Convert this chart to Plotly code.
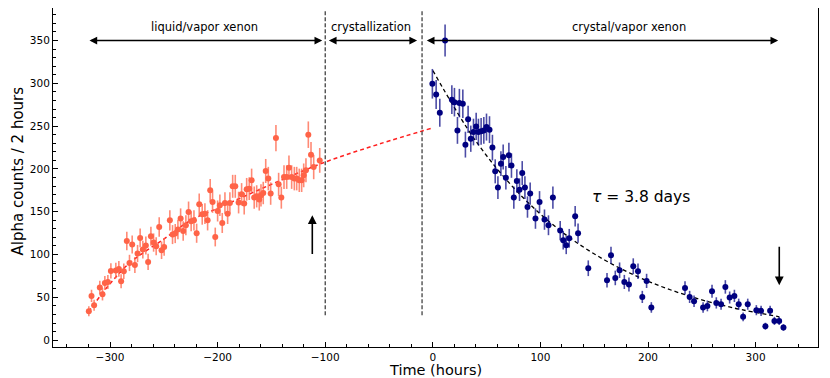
import numpy as np
import plotly.graph_objects as go

# ---------------- data ----------------
liquid_t = [-319.7, -317.2, -314.8, -309.5, -307.0, -304.8, -302.0, -299.2, -294.6, -291.8,
            -289.7, -287.2, -284.4, -281.9, -279.4, -276.9, -274.4, -272.0, -269.5, -266.7,
            -264.6, -262.0, -259.5, -257.1, -254.3, -252.1, -249.7, -244.4, -241.9, -239.4,
            -236.9, -234.4, -232.0, -229.5, -227.0, -224.6, -222.0, -219.5, -217.1, -214.3,
            -211.8, -209.3, -206.9, -204.7, -202.2, -200.0, -197.9, -195.7, -193.2, -190.7,
            -188.6, -186.0, -183.6, -180.5, -177.7, -175.3, -173.0, -170.6, -168.4, -166.0,
            -163.7, -161.3, -159.7, -157.6, -155.3, -152.9, -150.7, -145.8, -143.3, -140.8,
            -138.3, -135.8, -133.7, -131.2, -128.7, -126.5, -124.1, -121.9, -120.0, -117.9,
            -115.7, -113.2, -110.7, -105.1]
liquid_counts = [33.8, 51.7, 40.8, 61.5, 53.7, 66.9, 68.0, 80.9, 81.3, 83.2,
                 68.8, 80.5, 115.9, 90.2, 111.7, 87.9, 101.2, 119.4, 105.8, 110.5,
                 91.4, 121.4, 114.0, 109.7, 132.2, 105.0, 108.9, 140.0, 123.3, 124.5,
                 129.2, 142.0, 127.5, 134.2, 149.7, 138.9, 140.0, 124.9, 158.7, 147.0,
                 147.8, 140.0, 175.0, 161.4, 120.5, 150.9, 157.5, 136.9, 160.2, 147.8,
                 160.2, 179.7, 179.7, 160.7, 170.4, 159.5, 176.2, 177.0, 186.7, 166.5,
                 168.0, 164.2, 169.2, 171.9, 197.6, 188.7, 171.2, 236.1, 182.0, 166.5,
                 190.5, 190.5, 201.5, 190.5, 188.7, 188.7, 186.7, 186.7, 192.5, 198.4,
                 240.0, 216.7, 202.2, 210.0]

crystal_t = [-0.4, 3.1, 6.5, 11.4, 17.7, 20.1, 22.9, 24.7, 27.9, 30.3,
             32.8, 35.3, 37.8, 40.3, 42.4, 44.9, 47.4, 49.9, 52.7, 55.4,
             58.0, 60.5, 63.3, 65.4, 67.9, 70.7, 73.1, 75.3, 78.1, 80.6,
             83.1, 85.6, 88.0, 90.5, 95.4, 99.2, 103.8, 107.5, 111.6, 118.4,
             121.2, 124.0, 126.8, 132.3, 135.0, 144.5, 161.9, 165.6, 169.6, 173.6,
             178.0, 182.3, 186.3, 190.7, 194.7, 198.7, 203.1, 234.4, 238.7, 242.8,
             251.2, 255.2, 259.5, 263.5, 267.9, 271.9, 275.9, 280.3, 284.3, 288.4,
             292.7, 300.7, 305.1, 309.1, 313.5, 317.5, 321.9, 325.9]
crystal_counts = [299.5, 287.0, 265.7, 350.0, 280.9, 278.0, 245.0, 276.9, 276.2, 228.4,
                  257.9, 235.3, 243.1, 249.7, 243.1, 243.9, 245.0, 248.9, 245.9, 224.9,
                  197.2, 178.2, 206.2, 213.9, 189.8, 215.9, 203.9, 166.5, 185.9, 175.8,
                  195.2, 178.2, 155.5, 171.2, 142.0, 161.4, 140.8, 134.2, 166.5, 128.0,
                  116.7, 111.0, 119.0, 144.7, 125.0, 84.0, 70.0, 99.2, 72.7, 81.7,
                  68.0, 65.0, 86.3, 80.5, 50.5, 69.2, 38.2, 61.0, 50.5, 45.5,
                  38.2, 40.0, 57.2, 43.5, 42.0, 62.2, 49.8, 51.7, 42.0, 27.2,
                  42.0, 35.0, 34.2, 16.3, 34.2, 22.5, 22.5, 14.8]

# fit curves
growth_fit_t = [-320, -300, -280, -250, -225, -200, -150, -100, -50, 0]
growth_fit_counts = [33, 66, 92, 118, 140, 154, 182, 208, 229, 248]
decay_fit_t = [0, 40, 80, 120, 160, 200, 240, 280, 322]
decay_fit_counts = [315, 232.5, 171.5, 126.5, 93.4, 68.9, 50.8, 37.5, 27.3]

phase_bounds = [-100, -10]
phase_labels = ["liquid/vapor xenon", "crystallization", "crystal/vapor xenon"]
phase_label_x = [-212.6, -57, 182.5]
phase_arrows = [(-320.5, -102.8), (-98, -14.6), (-7, 321)]

x_ticks = [-300, -200, -100, 0, 100, 200, 300]
y_ticks = [0, 50, 100, 150, 200, 250, 300, 350]

FONT = "DejaVu Sans, Verdana, sans-serif"
liq_err = np.sqrt(liquid_counts)
cry_err = np.sqrt(crystal_counts)

fig = go.Figure()

fig.add_trace(go.Scatter(
    x=growth_fit_t, y=growth_fit_counts, mode="lines", line_shape="spline",
    line=dict(color="#ff2020", width=1.5, dash="4px,3px"), hoverinfo="skip"))
fig.add_trace(go.Scatter(
    x=decay_fit_t, y=decay_fit_counts, mode="lines", line_shape="spline",
    line=dict(color="black", width=1.3, dash="4px,3px"), hoverinfo="skip"))

fig.add_trace(go.Scatter(
    x=liquid_t, y=liquid_counts, mode="markers",
    marker=dict(color="#ff6347", size=6),
    error_y=dict(type="data", array=liq_err, color="rgba(255,99,71,0.75)", thickness=1.6, width=0)))
fig.add_trace(go.Scatter(
    x=crystal_t, y=crystal_counts, mode="markers",
    marker=dict(color="#000080", size=6),
    error_y=dict(type="data", array=cry_err, color="rgba(0,0,128,0.7)", thickness=1.6, width=0)))

# vertical phase boundaries
for xb in phase_bounds:
    fig.add_trace(go.Scatter(x=[xb, xb], y=[29, 385], mode="lines",
                             line=dict(color="#333333", width=1.2, dash="4px,2px"), hoverinfo="skip"))

annotations = []
for (x0, x1) in phase_arrows:
    annotations.append(dict(x=x1, y=350, ax=x0, ay=350, xref="x", yref="y", axref="x", ayref="y",
                            text="", showarrow=True, arrowhead=2, startarrowhead=2,
                            arrowside="end+start", arrowsize=1.1, startarrowsize=1.1,
                            arrowwidth=1.4, arrowcolor="black"))
for lab, lx in zip(phase_labels, phase_label_x):
    annotations.append(dict(x=lx, y=366, xref="x", yref="y", text=lab, showarrow=False,
                            font=dict(family=FONT, size=11.5, color="black")))
# marker arrows
annotations.append(dict(x=-112, y=146, ax=-112, ay=99, xref="x", yref="y", axref="x", ayref="y",
                        text="", showarrow=True, arrowhead=2, arrowsize=1.1, arrowwidth=1.6,
                        arrowcolor="black"))
annotations.append(dict(x=322, y=64, ax=322, ay=111, xref="x", yref="y", axref="x", ayref="y",
                        text="", showarrow=True, arrowhead=2, arrowsize=1.1, arrowwidth=1.6,
                        arrowcolor="black"))
annotations.append(dict(x=146, y=167, xref="x", yref="y", text="<i>τ</i> = 3.8 days", showarrow=False,
                        xanchor="left", font=dict(family=FONT, size=15.5, color="black")))
# axis titles
annotations.append(dict(x=0.5, y=-0.097, xref="paper", yref="paper", yanchor="bottom",
                        text="Time (hours)", showarrow=False,
                        font=dict(family=FONT, size=14.5, color="black")))
annotations.append(dict(x=-0.046, y=0.52, xref="paper", yref="paper", xanchor="center",
                        text="Alpha counts / 2 hours", showarrow=False, textangle=-90,
                        font=dict(family=FONT, size=15, color="black")))

# the page body adds an 8px offset, so the figure is 8px smaller and shifted margins
fig.update_layout(
    width=822, height=370,
    margin=dict(l=45, r=12, t=0, b=31, autoexpand=False),
    paper_bgcolor="white", plot_bgcolor="white",
    showlegend=False,
    font=dict(family=FONT, size=10.5, color="black"),
    annotations=annotations,
    xaxis=dict(range=[-353, 358], tickvals=x_ticks, ticktext=[f"{v:d}".replace("-", "−") for v in x_ticks],
               ticks="inside", ticklen=5, tickwidth=1, tickcolor="black", automargin=False,
               minor=dict(dtick=20, tick0=0, ticks="inside", ticklen=3, tickcolor="black"),
               showline=True, linecolor="black", linewidth=1, mirror=True,
               showgrid=False, zeroline=False),
    yaxis=dict(range=[-8, 388], tickvals=y_ticks, automargin=False,
               ticks="inside", ticklen=5, tickwidth=1, tickcolor="black",
               minor=dict(dtick=10, tick0=0, ticks="inside", ticklen=3, tickcolor="black"),
               showline=True, linecolor="black", linewidth=1, mirror=True,
               showgrid=False, zeroline=False),
)

fig.write_html("out.html")
